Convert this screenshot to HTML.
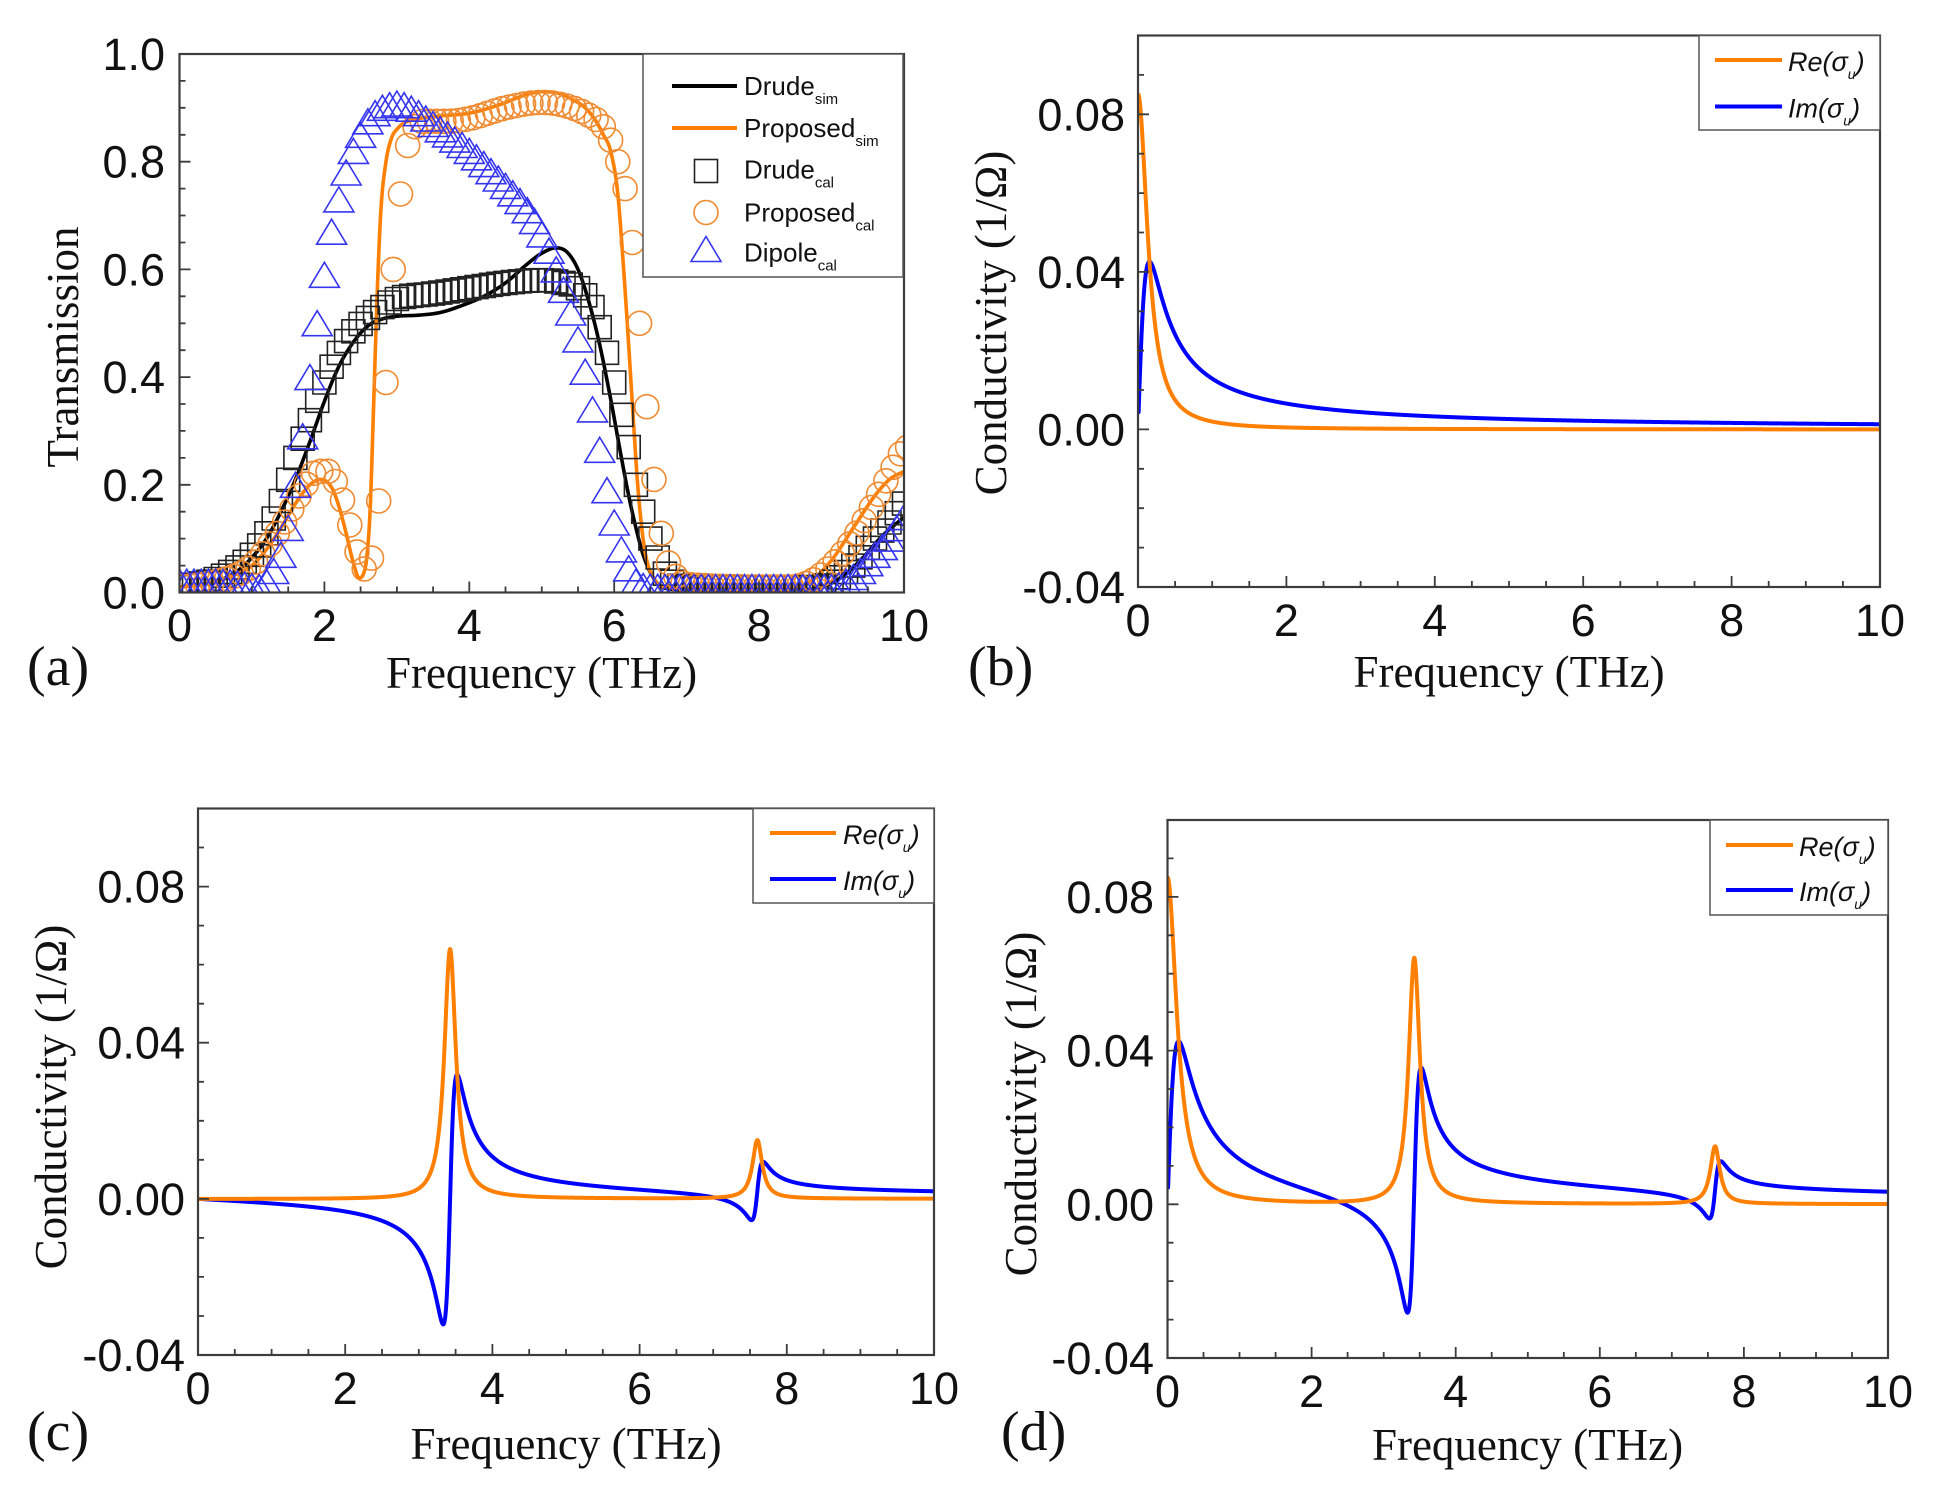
<!DOCTYPE html>
<html><head><meta charset="utf-8">
<style>
html,body{margin:0;padding:0;background:#fff;width:1940px;height:1505px;overflow:hidden;}
svg{display:block;}
.tk{font-family:"Liberation Sans",Arial,sans-serif;font-size:45px;fill:#111;}
.tt{font-family:"Liberation Serif","Times New Roman",serif;font-size:45px;fill:#111;}
.pl{font-family:"Liberation Serif","Times New Roman",serif;font-size:56px;fill:#111;}
.lg{font-family:"Liberation Sans",Arial,sans-serif;font-size:26px;fill:#111;}
.lgi{font-family:"Liberation Sans",Arial,sans-serif;font-size:27px;font-style:italic;fill:#111;}
</style></head><body>
<svg id="s" width="1940" height="1505" viewBox="0 0 1940 1505" xmlns="http://www.w3.org/2000/svg">
<defs>
<clipPath id="ca"><rect x="179.5" y="54" width="724.5" height="538.5"/></clipPath>
<clipPath id="cb"><rect x="1138" y="35.5" width="742" height="551.5"/></clipPath>
<clipPath id="cc"><rect x="198" y="808.5" width="736" height="546.5"/></clipPath>
<clipPath id="cd"><rect x="1167.5" y="820" width="720.5" height="538"/></clipPath>
</defs>
<g id="curves"></g>
<g id="frames"></g>

<!-- Panel (a) text -->
<g class="tk" text-anchor="end">
<text x="165" y="70">1.0</text><text x="165" y="177.7">0.8</text><text x="165" y="285.4">0.6</text>
<text x="165" y="393.1">0.4</text><text x="165" y="500.8">0.2</text><text x="165" y="608.5">0.0</text>
</g>
<g class="tk" text-anchor="middle">
<text x="179.5" y="641">0</text><text x="324.4" y="641">2</text><text x="469.3" y="641">4</text>
<text x="614.2" y="641">6</text><text x="759.1" y="641">8</text><text x="904" y="641">10</text>
</g>
<text class="tt" font-size="44" text-anchor="middle" transform="translate(78,347) rotate(-90)">Transmission</text>
<text class="tt" x="541.5" y="688" text-anchor="middle">Frequency (THz)</text>
<text class="pl" x="27" y="685">(a)</text>

<!-- Panel (b) text -->
<g class="tk" text-anchor="end">
<text x="1125" y="130.3">0.08</text><text x="1125" y="287.9">0.04</text>
<text x="1125" y="445.4">0.00</text><text x="1125" y="603">-0.04</text>
</g>
<g class="tk" text-anchor="middle">
<text x="1138" y="636">0</text><text x="1286.4" y="636">2</text><text x="1434.8" y="636">4</text>
<text x="1583.2" y="636">6</text><text x="1731.6" y="636">8</text><text x="1880" y="636">10</text>
</g>
<text class="tt" text-anchor="middle" transform="translate(1006,323) rotate(-90)">Conductivity (1/Ω)</text>
<text class="tt" x="1509" y="687" text-anchor="middle">Frequency (THz)</text>
<text class="pl" x="968" y="685">(b)</text>

<!-- Panel (c) text -->
<g class="tk" text-anchor="end">
<text x="185" y="902.6">0.08</text><text x="185" y="1058.7">0.04</text>
<text x="185" y="1214.9">0.00</text><text x="185" y="1371">-0.04</text>
</g>
<g class="tk" text-anchor="middle">
<text x="198" y="1404">0</text><text x="345.2" y="1404">2</text><text x="492.4" y="1404">4</text>
<text x="639.6" y="1404">6</text><text x="786.8" y="1404">8</text><text x="934" y="1404">10</text>
</g>
<text class="tt" text-anchor="middle" transform="translate(66,1097) rotate(-90)">Conductivity (1/Ω)</text>
<text class="tt" x="566" y="1459" text-anchor="middle">Frequency (THz)</text>
<text class="pl" x="27" y="1450">(c)</text>

<!-- Panel (d) text -->
<g class="tk" text-anchor="end">
<text x="1154" y="912.9">0.08</text><text x="1154" y="1066.6">0.04</text>
<text x="1154" y="1220.3">0.00</text><text x="1154" y="1374">-0.04</text>
</g>
<g class="tk" text-anchor="middle">
<text x="1167.5" y="1407">0</text><text x="1311.6" y="1407">2</text><text x="1455.7" y="1407">4</text>
<text x="1599.8" y="1407">6</text><text x="1743.9" y="1407">8</text><text x="1888" y="1407">10</text>
</g>
<text class="tt" text-anchor="middle" transform="translate(1036,1104) rotate(-90)">Conductivity (1/Ω)</text>
<text class="tt" x="1527.5" y="1460" text-anchor="middle">Frequency (THz)</text>
<text class="pl" x="1001" y="1450">(d)</text>

<!-- Legend (a) -->
<g>
<rect x="643" y="54" width="260" height="223" fill="#fff" stroke="#555" stroke-width="1.5"/>
<line x1="672" y1="86" x2="737" y2="86" stroke="#000" stroke-width="4"/>
<text class="lg" x="744" y="95">Drude<tspan font-size="15" dy="9">sim</tspan></text>
<line x1="672" y1="128" x2="737" y2="128" stroke="#ff7f00" stroke-width="4"/>
<text class="lg" x="744" y="137">Proposed<tspan font-size="15" dy="9">sim</tspan></text>
<rect x="694.5" y="159.5" width="23" height="23" fill="none" stroke="#222" stroke-width="1.6"/>
<text class="lg" x="744" y="178.5">Drude<tspan font-size="15" dy="9">cal</tspan></text>
<circle cx="706" cy="212.5" r="12" fill="none" stroke="#f08a30" stroke-width="1.6"/>
<text class="lg" x="744" y="221.5">Proposed<tspan font-size="15" dy="9">cal</tspan></text>
<polygon points="706,236.5 691,261.5 721,261.5" fill="none" stroke="#3535f0" stroke-width="1.6"/>
<text class="lg" x="744" y="261.5">Dipole<tspan font-size="15" dy="9">cal</tspan></text>
</g>

<!-- Legend (b) -->
<g>
<rect x="1699" y="35.5" width="181" height="94.5" fill="#fff" stroke="#555" stroke-width="1.5"/>
<line x1="1715" y1="60" x2="1782" y2="60" stroke="#ff7f00" stroke-width="4"/>
<text class="lgi" x="1788" y="71">Re(σ<tspan font-size="14" dy="8">u</tspan><tspan dy="-8">)</tspan></text>
<line x1="1715" y1="106.5" x2="1782" y2="106.5" stroke="#0000ff" stroke-width="4"/>
<text class="lgi" x="1788" y="117.5">Im(σ<tspan font-size="14" dy="8">u</tspan><tspan dy="-8">)</tspan></text>
</g>
<!-- Legend (c) -->
<g>
<rect x="753" y="808.5" width="181" height="94.5" fill="#fff" stroke="#555" stroke-width="1.5"/>
<line x1="770" y1="833" x2="836" y2="833" stroke="#ff7f00" stroke-width="4"/>
<text class="lgi" x="843" y="844">Re(σ<tspan font-size="14" dy="8">u</tspan><tspan dy="-8">)</tspan></text>
<line x1="770" y1="879" x2="836" y2="879" stroke="#0000ff" stroke-width="4"/>
<text class="lgi" x="843" y="890">Im(σ<tspan font-size="14" dy="8">u</tspan><tspan dy="-8">)</tspan></text>
</g>
<!-- Legend (d) -->
<g>
<rect x="1710" y="820" width="178" height="95" fill="#fff" stroke="#555" stroke-width="1.5"/>
<line x1="1726" y1="845" x2="1793" y2="845" stroke="#ff7f00" stroke-width="4"/>
<text class="lgi" x="1799" y="856">Re(σ<tspan font-size="14" dy="8">u</tspan><tspan dy="-8">)</tspan></text>
<line x1="1726" y1="890" x2="1793" y2="890" stroke="#0000ff" stroke-width="4"/>
<text class="lgi" x="1799" y="901">Im(σ<tspan font-size="14" dy="8">u</tspan><tspan dy="-8">)</tspan></text>
</g>
</svg>
<script>
(function(){
var NS="http://www.w3.org/2000/svg";
var curves=document.getElementById('curves');
var frames=document.getElementById('frames');
function el(tag,attrs,parent){var e=document.createElementNS(NS,tag);for(var k in attrs)e.setAttribute(k,attrs[k]);parent.appendChild(e);return e;}
function P(x0,x1,yb,yt,ymin,ymax,clip){return {x0:x0,x1:x1,yb:yb,yt:yt,ymin:ymin,ymax:ymax,clip:clip,
  X:function(f){return x0+(x1-x0)*f/10;},Y:function(v){return yb-(yb-yt)*(v-ymin)/(ymax-ymin);}};}
var A=P(179.5,904,592.5,54,0,1,'ca');
var B=P(1138,1880,587,35.5,-0.04,0.10,'cb');
var C=P(198,934,1355,808.5,-0.04,0.10,'cc');
var D=P(1167.5,1888,1358,820,-0.04,0.10,'cd');

function frame(p,ymaj,ystep){
  var g=el('g',{stroke:'#3c3c3c','stroke-width':2,fill:'none'},frames);
  var d='';
  for(var k=1;k<20;k++){var x=p.X(k*0.5);var len=(k%4===0)?11:6;d+='M'+x.toFixed(1)+' '+p.yb+'V'+(p.yb-len);}
  var nm=Math.round((p.ymax-p.ymin)/ystep), ratio=Math.round(ymaj/ystep);
  for(var k=1;k<nm;k++){var y=p.Y(p.ymin+k*ystep);var len=(k%ratio===0)?11:6;d+='M'+p.x0+' '+y.toFixed(1)+'H'+(p.x0+len);}
  el('path',{d:d,'stroke-width':1.8},g);
  el('rect',{x:p.x0,y:p.yt,width:p.x1-p.x0,height:p.yb-p.yt,'stroke-width':2.2},g);
}

function monotone(pts){
  var n=pts.length,xs=[],ys=[],d=[],m=[],i;
  for(i=0;i<n;i++){xs.push(pts[i][0]);ys.push(pts[i][1]);}
  for(i=0;i<n-1;i++)d.push((ys[i+1]-ys[i])/(xs[i+1]-xs[i]));
  m[0]=d[0];m[n-1]=d[n-2];
  for(i=1;i<n-1;i++){m[i]=(d[i-1]*d[i]<=0)?0:(d[i-1]+d[i])/2;}
  for(i=0;i<n-1;i++){
    if(d[i]===0){m[i]=0;m[i+1]=0;continue;}
    var a=m[i]/d[i],b=m[i+1]/d[i],s=a*a+b*b;
    if(s>9){var t=3/Math.sqrt(s);m[i]=t*a*d[i];m[i+1]=t*b*d[i];}
  }
  return function(x){
    if(x<=xs[0])return ys[0];if(x>=xs[n-1])return ys[n-1];
    var j=0;while(j<n-2&&x>xs[j+1])j++;
    var h=xs[j+1]-xs[j],t=(x-xs[j])/h,t2=t*t,t3=t2*t;
    return (2*t3-3*t2+1)*ys[j]+(t3-2*t2+t)*h*m[j]+(-2*t3+3*t2)*ys[j+1]+(t3-t2)*h*m[j+1];
  };
}

function linePath(p,fn,f0,f1,step){
  var d='';
  for(var f=f0;f<=f1+1e-9;f+=step){var x=p.X(f),y=p.Y(fn(f));d+=(d?'L':'M')+x.toFixed(2)+' '+y.toFixed(2);}
  return d;
}
function drawLine(p,fn,f0,f1,step,color,w){
  var g=el('g',{'clip-path':'url(#'+p.clip+')'},curves);
  el('path',{d:linePath(p,fn,f0,f1,step),fill:'none',stroke:color,'stroke-width':w,'stroke-linejoin':'round','stroke-linecap':'round'},g);
}

/* ---------- Panel (a) ---------- */
var drudeSim=monotone([[0,0.01],[0.5,0.02],[0.8,0.04],[1.0,0.065],[1.2,0.10],[1.4,0.15],[1.6,0.21],[1.8,0.28],[2.0,0.355],[2.2,0.42],[2.4,0.465],[2.6,0.495],[2.8,0.508],[3.0,0.513],[3.3,0.515],[3.6,0.52],[3.9,0.533],[4.2,0.55],[4.5,0.575],[4.8,0.61],[5.0,0.63],[5.2,0.64],[5.35,0.632],[5.5,0.6],[5.65,0.54],[5.8,0.46],[5.95,0.36],[6.1,0.25],[6.2,0.18],[6.3,0.12],[6.4,0.07],[6.55,0.025],[6.7,0.008],[7.0,0.005],[8.6,0.005],[8.9,0.012],[9.1,0.025],[9.4,0.06],[9.7,0.105],[10,0.14]]);
var propSim=monotone([[0,0.01],[0.5,0.02],[0.8,0.035],[1.0,0.05],[1.2,0.08],[1.4,0.12],[1.6,0.165],[1.8,0.2],[1.95,0.21],[2.1,0.195],[2.2,0.16],[2.3,0.11],[2.4,0.055],[2.48,0.027],[2.54,0.035],[2.58,0.06],[2.63,0.15],[2.68,0.35],[2.73,0.56],[2.78,0.71],[2.85,0.8],[2.93,0.845],[3.0,0.86],[3.1,0.872],[3.3,0.88],[3.6,0.885],[4.0,0.89],[4.4,0.905],[4.8,0.925],[5.0,0.93],[5.2,0.928],[5.4,0.917],[5.6,0.9],[5.75,0.875],[5.85,0.85],[5.95,0.82],[6.05,0.74],[6.12,0.62],[6.19,0.48],[6.26,0.33],[6.33,0.19],[6.42,0.08],[6.55,0.025],[6.7,0.01],[7.0,0.008],[8.4,0.008],[8.7,0.02],[9.0,0.06],[9.3,0.12],[9.6,0.18],[9.8,0.21],[10,0.225]]);
var drudeCal=monotone([[0,0.01],[0.5,0.025],[1.0,0.07],[1.2,0.11],[1.4,0.17],[1.6,0.25],[1.8,0.32],[2.0,0.39],[2.2,0.445],[2.4,0.485],[2.6,0.51],[2.8,0.53],[3.0,0.545],[3.5,0.555],[4.0,0.565],[4.5,0.575],[5.0,0.58],[5.3,0.575],[5.5,0.565],[5.7,0.53],[5.85,0.47],[6.0,0.39],[6.1,0.33],[6.2,0.27],[6.3,0.2],[6.4,0.15],[6.5,0.1],[6.6,0.065],[6.7,0.035],[6.8,0.02],[7.0,0.01],[8.8,0.01],[9.0,0.02],[9.3,0.05],[9.6,0.1],[9.8,0.13],[10,0.165]]);
var propCal=monotone([[0,0.01],[0.5,0.02],[1.0,0.05],[1.4,0.12],[1.7,0.19],[1.9,0.225],[2.05,0.225],[2.2,0.19],[2.3,0.15],[2.4,0.10],[2.5,0.055],[2.6,0.04],[2.68,0.09],[2.75,0.17],[2.85,0.39],[2.95,0.6],[3.05,0.74],[3.15,0.83],[3.25,0.865],[3.4,0.875],[3.7,0.875],[4.0,0.88],[4.5,0.9],[5.0,0.91],[5.3,0.905],[5.6,0.89],[5.85,0.865],[5.95,0.84],[6.05,0.8],[6.15,0.75],[6.25,0.65],[6.35,0.5],[6.45,0.345],[6.55,0.21],[6.65,0.11],[6.75,0.055],[6.85,0.03],[7.0,0.015],[8.4,0.01],[8.7,0.02],[9.0,0.05],[9.3,0.1],[9.6,0.17],[9.8,0.22],[10,0.27]]);
var dipCal=monotone([[0,0.02],[0.5,0.02],[0.9,0.015],[1.1,0.01],[1.2,0.02],[1.3,0.04],[1.4,0.07],[1.5,0.12],[1.6,0.2],[1.7,0.29],[1.8,0.4],[1.9,0.5],[2.0,0.59],[2.1,0.67],[2.2,0.73],[2.3,0.78],[2.4,0.82],[2.5,0.85],[2.6,0.875],[2.7,0.89],[2.8,0.9],[2.9,0.905],[3.0,0.908],[3.1,0.905],[3.3,0.89],[3.5,0.87],[4.0,0.82],[4.5,0.755],[4.8,0.71],[5.0,0.665],[5.2,0.6],[5.4,0.52],[5.5,0.47],[5.6,0.41],[5.7,0.34],[5.8,0.265],[5.9,0.19],[6.0,0.13],[6.1,0.08],[6.2,0.045],[6.3,0.02],[6.4,0.012],[7,0.01],[9.0,0.01],[9.2,0.02],[9.4,0.04],[9.6,0.07],[9.8,0.1],[10,0.14]]);

drawLine(A,drudeSim,0,10,0.01,'#000',3.6);
drawLine(A,propSim,0,10,0.005,'#ff7f00',3.6);

var gm=el('g',{'clip-path':'url(#ca)',fill:'none','stroke-width':1.6},curves);
var sq='';for(var k=0;k<=100;k++){var f=k*0.1,x=A.X(f),y=A.Y(drudeCal(f));sq+='M'+(x-11.5).toFixed(1)+' '+(y-11.5).toFixed(1)+'h23v23h-23z';}
el('path',{d:sq,stroke:'#222'},gm);
var ci='';for(var k=0;k<=100;k++){var f=0.05+k*0.1;if(f>10.05)break;var x=A.X(f),y=A.Y(propCal(f));ci+='M'+(x+12).toFixed(1)+' '+y.toFixed(1)+'a12 12 0 1 0 -24 0a12 12 0 1 0 24 0z';}
el('path',{d:ci,stroke:'#f08a30'},gm);
var tr='';for(var k=0;k<=100;k++){var f=k*0.1,x=A.X(f),y=A.Y(dipCal(f));tr+='M'+x.toFixed(1)+' '+(y-12.5).toFixed(1)+'L'+(x-15).toFixed(1)+' '+(y+12.5).toFixed(1)+'H'+(x+15).toFixed(1)+'z';}
el('path',{d:tr,stroke:'#3535f0'},gm);

/* ---------- Panels (b),(c),(d) ---------- */
var Dd=0.0132,gd=0.155;
function drude(f){var den=gd*gd+f*f;return [Dd*gd/den,Dd*f/den];}
function lor(f,f0,g,Amp){var K=Amp*g,a=f0*f0-f*f,den=a*a+g*g*f*f;return [K*g*f*f/den,-K*f*a/den];}
function cfun(f){var a=lor(f,3.425,0.19,0.064),b=lor(f,7.6,0.16,0.015);return [a[0]+b[0],a[1]+b[1]];}
function dfun(f){var a=drude(f),c=cfun(f);return [a[0]+c[0],a[1]+c[1]];}

drawLine(B,function(f){return drude(f)[1];},0.008,10,0.004,'#0000ff',4);
drawLine(B,function(f){return drude(f)[0];},0.008,10,0.004,'#ff7f00',4);
drawLine(C,function(f){return cfun(f)[1];},0,10,0.004,'#0000ff',4);
drawLine(C,function(f){return cfun(f)[0];},0,10,0.004,'#ff7f00',4);
drawLine(D,function(f){return dfun(f)[1];},0.008,10,0.004,'#0000ff',4);
drawLine(D,function(f){return dfun(f)[0];},0.008,10,0.004,'#ff7f00',4);

frame(A,0.2,0.05);
frame(B,0.04,0.01);
frame(C,0.04,0.01);
frame(D,0.04,0.01);
})();
</script>
</body></html>
